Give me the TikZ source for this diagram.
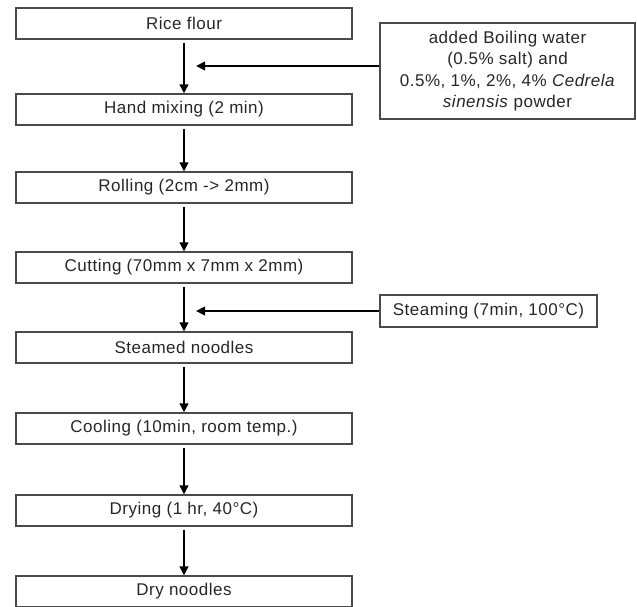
\documentclass[tikz,border=0pt]{standalone}
\usepackage{fontspec}
\setmainfont[LetterSpace=3]{Liberation Sans}
\usetikzlibrary{arrows.meta}
\definecolor{boxgray}{HTML}{4A4A4A}
\definecolor{textcol}{HTML}{262626}
\begin{document}
\begin{tikzpicture}[x=1pt,y=1pt,
  stepbox/.style={draw=boxgray, line width=1.2pt, minimum width=336pt, minimum height=31pt, inner sep=0pt, font=\fontsize{17}{20}\selectfont, text=textcol},
  sidebox/.style={draw=boxgray, line width=1.2pt, inner sep=0pt, align=center, font=\fontsize{17}{21.5}\selectfont, text=textcol},
  flow/.style={line width=2.8pt, -{Triangle[length=9pt,width=8.5pt]}}
]
\useasboundingbox (0,0) rectangle (637,-606);
\clip (0,0) rectangle (637,-606);
\node[stepbox] (b1) at (184,-23.5) {Rice flour};
\node[stepbox] (b2) at (184,-109.5) {Hand mixing (2 min)};
\node[stepbox] (b3) at (184,-187.5) {Rolling (2cm -> 2mm)};
\node[stepbox] (b4) at (184,-267.5) {Cutting (70mm x 7mm x 2mm)};
\node[stepbox] (b5) at (184,-347.5) {Steamed noodles};
\node[stepbox] (b6) at (184,-428.5) {Cooling (10min, room temp.)};
\node[stepbox] (b7) at (184,-510.5) {Drying (1 hr, 40°C)};
\node[stepbox] (b8) at (184,-591.5) {Dry noodles};
\node[sidebox, minimum width=255pt, minimum height=96pt] (rb) at (507.5,-71)
  {added Boiling water\\(0.5\% salt) and\\0.5\%, 1\%, 2\%, 4\% \textit{Cedrela}\\\textit{sinensis} powder};
\node[sidebox, minimum width=217pt, minimum height=32pt] (st) at (488.5,-311) {Steaming (7min, 100°C)};
\coordinate (m1) at (196,-66);
\coordinate (m2) at (196,-311);
\draw[flow] ([yshift=-3pt]b1.south) -- (b2.north);
\draw[flow] ([yshift=-3pt]b2.south) -- (b3.north);
\draw[flow] ([yshift=-3pt]b3.south) -- (b4.north);
\draw[flow] ([yshift=-3pt]b4.south) -- (b5.north);
\draw[flow] ([yshift=-3pt]b5.south) -- (b6.north);
\draw[flow] ([yshift=-3pt]b6.south) -- (b7.north);
\draw[flow] ([yshift=-3pt]b7.south) -- (b8.north);
\draw[flow] (rb.west |- m1) -- (m1);
\draw[flow] (st.west) -- (m2);
\end{tikzpicture}
\end{document}
